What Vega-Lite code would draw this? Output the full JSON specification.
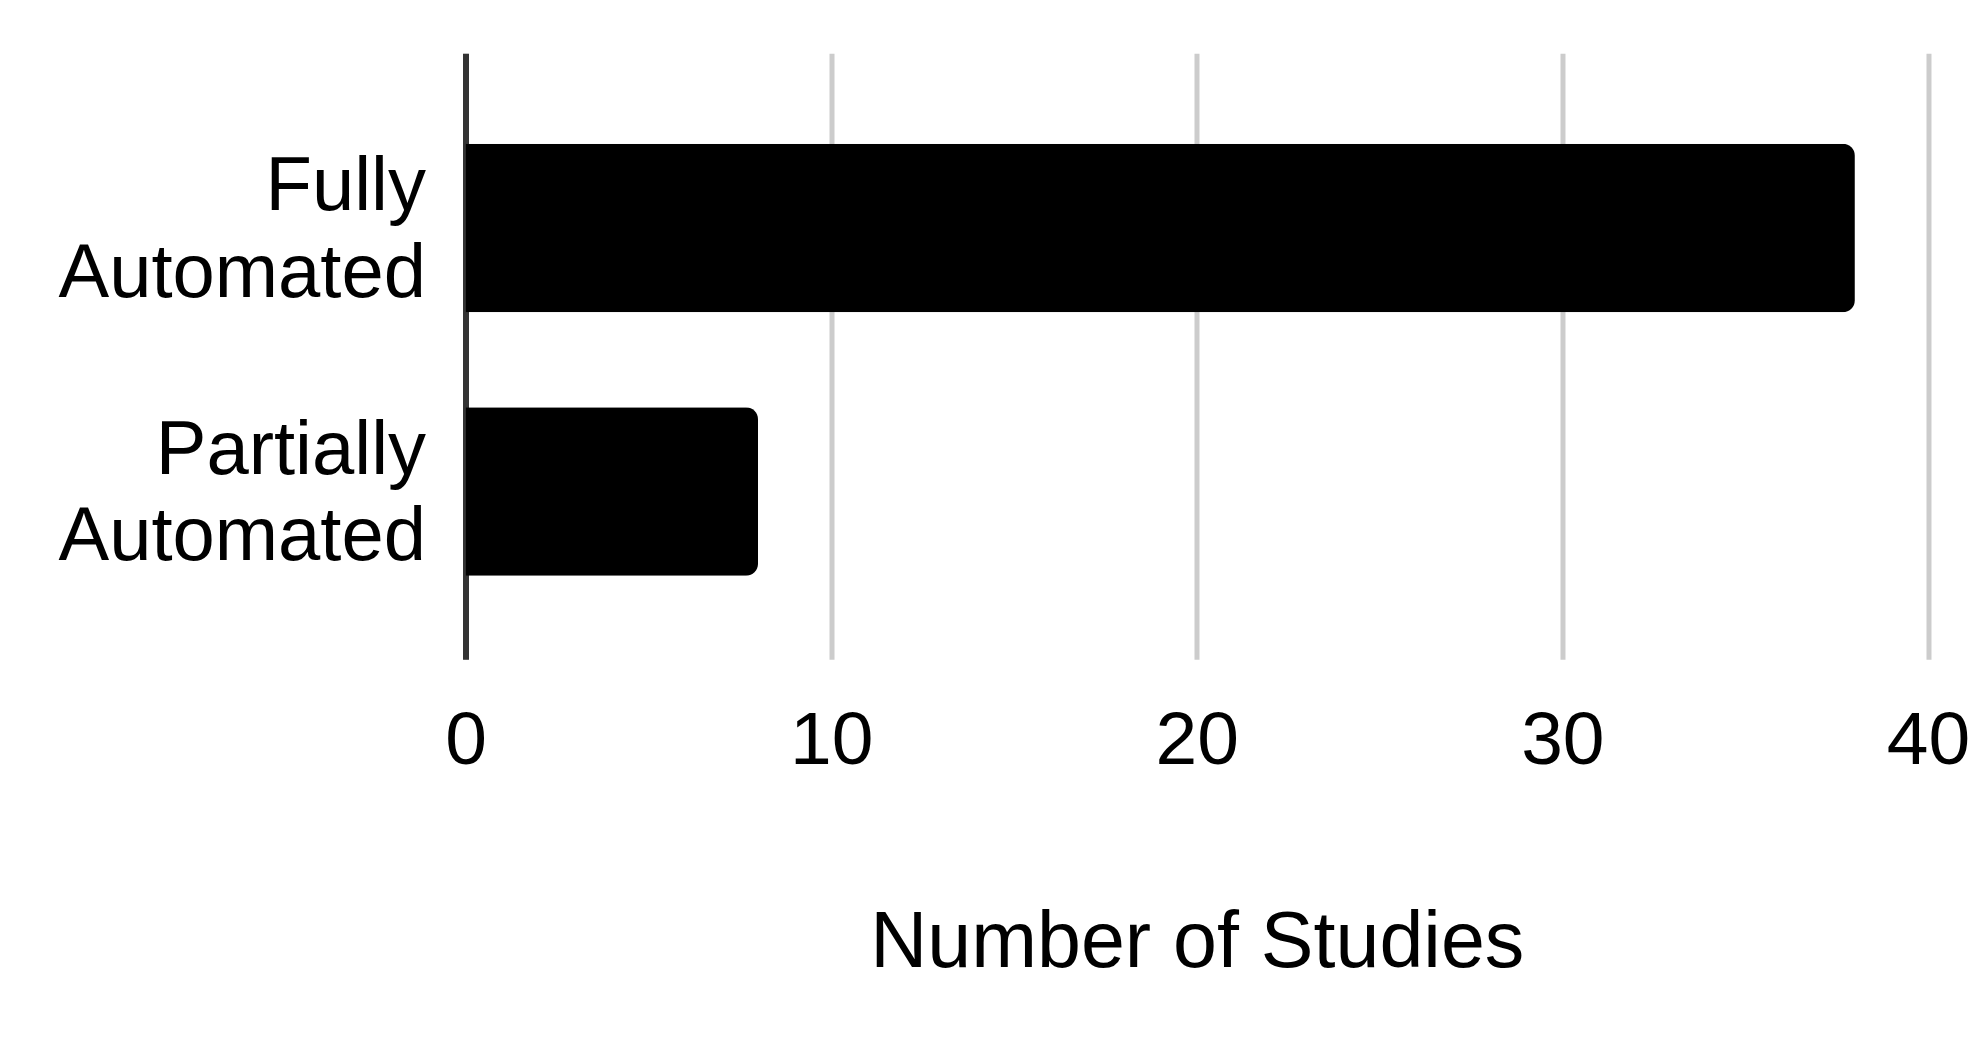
{
  "$schema": "https://vega.github.io/schema/vega-lite/v6.json",
  "autosize": {"type": "none"},
  "padding": {"left": 465.5, "top": 53.3, "right": 53, "bottom": 379},
  "width": 1462.5,
  "height": 606,
  "background": "white",
  "data": {
    "values": [
      {"category": "Fully Automated", "studies": 38},
      {"category": "Partially Automated", "studies": 8}
    ]
  },
  "config": {
    "view": {"stroke": null},
    "font": "Liberation Sans"
  },
  "mark": {"type": "bar", "color": "black", "cornerRadiusEnd": 12},
  "encoding": {
    "y": {
      "field": "category",
      "type": "nominal",
      "sort": null,
      "scale": {"paddingInner": 0.36, "paddingOuter": 0.33, "align": 0.52},
      "axis": {
        "title": null,
        "labelExpr": "split(datum.label, ' ')",
        "labelFontSize": 76,
        "labelLineHeight": 87,
        "labelColor": "black",
        "labelPadding": 40,
        "labelAlign": "right",
        "labelBaseline": "middle",
        "labelOffset": -41,
        "ticks": false,
        "tickSize": 0,
        "domain": true,
        "domainColor": "#333333",
        "domainWidth": 6,
        "grid": false,
        "labelLimit": 1000
      }
    },
    "x": {
      "field": "studies",
      "type": "quantitative",
      "scale": {"domain": [0, 40], "nice": false},
      "axis": {
        "values": [0, 10, 20, 30, 40],
        "title": "Number of Studies",
        "titleFontSize": 79,
        "titleFontWeight": "normal",
        "titleColor": "black",
        "titlePadding": 126,
        "labelFontSize": 75,
        "labelColor": "black",
        "labelPadding": 45,
        "labelFlush": false,
        "labelOverlap": false,
        "ticks": false,
        "tickSize": 0,
        "domain": false,
        "grid": true,
        "gridColor": "#cccccc",
        "gridWidth": 5
      }
    }
  }
}
